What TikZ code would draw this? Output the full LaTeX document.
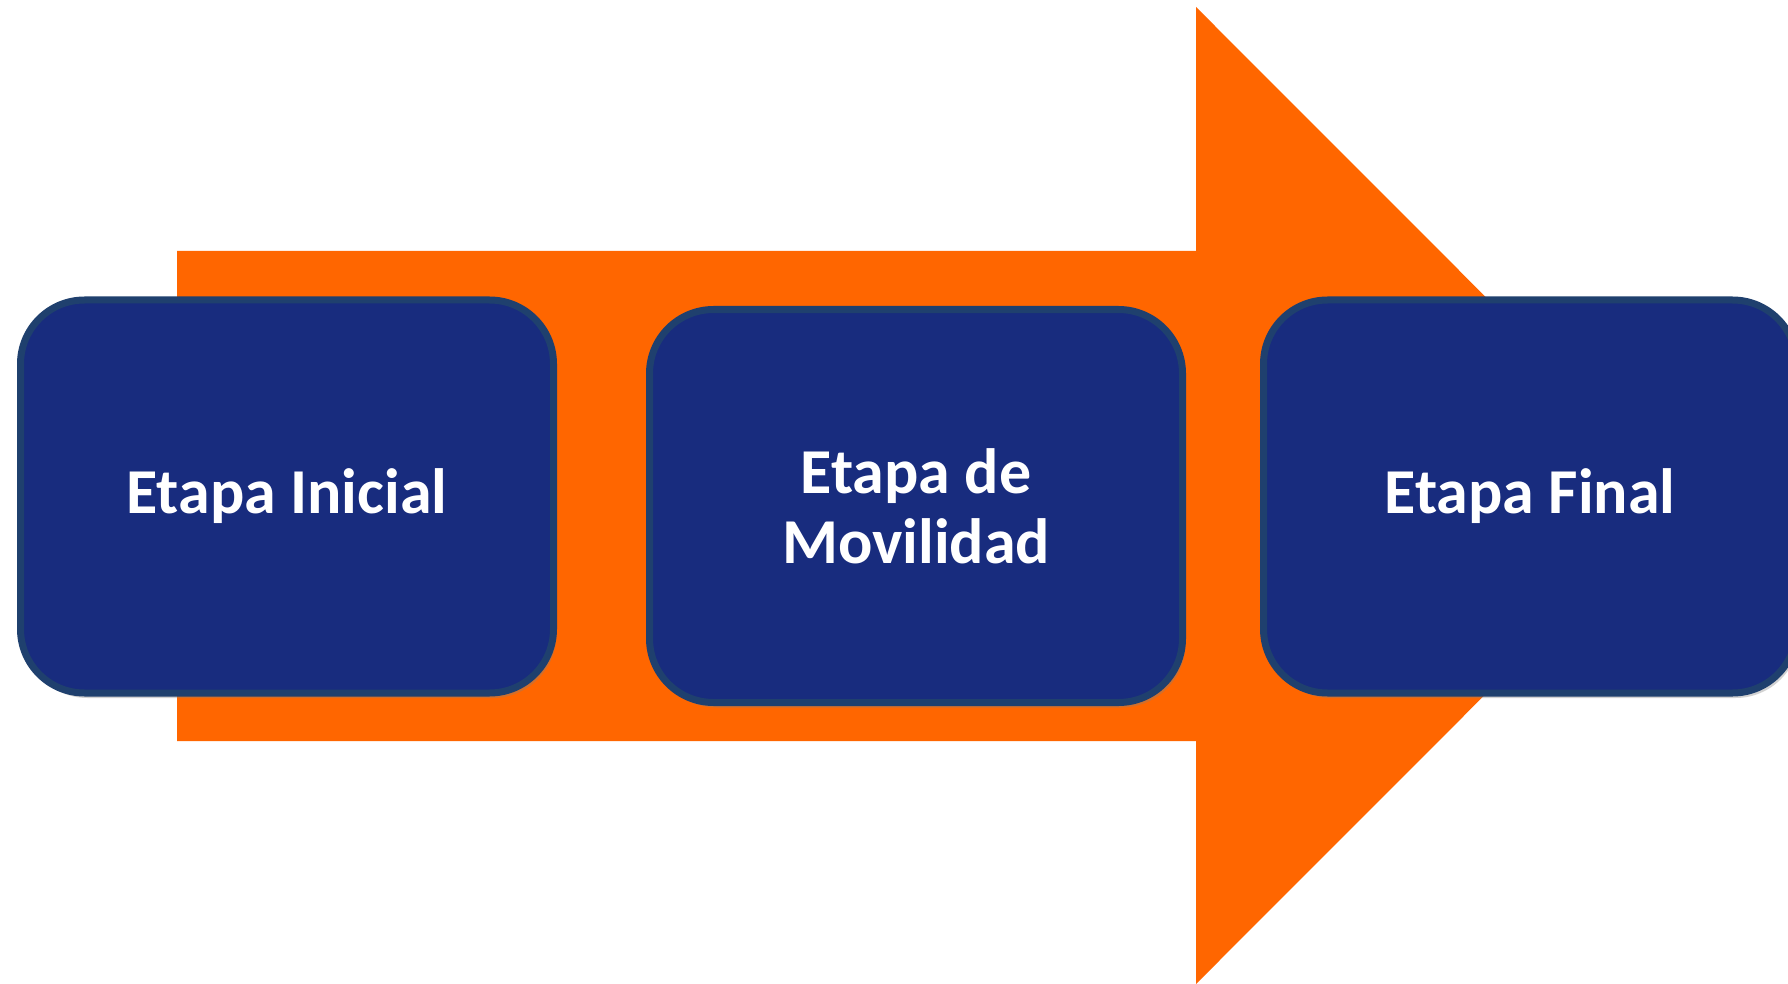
\documentclass[tikz,border=0pt]{standalone}
\usepackage{fontspec}
\setmainfont{Carlito}
\usetikzlibrary{shadows}
\definecolor{arroworange}{RGB}{255,102,0}
\definecolor{boxfill}{RGB}{24,44,126}
\definecolor{boxline}{RGB}{31,64,110}
\tikzset{
  stagebox/.style={draw=boxline, line width=7pt, fill=boxfill, rounded corners=64pt,
    minimum width=533pt, minimum height=393pt, text=white, align=center,
    font=\fontsize{64}{70}\selectfont\bfseries, inner sep=0pt,
    drop shadow={opacity=0.35, shadow xshift=3pt, shadow yshift=-5pt}},
  bigarrow/.style={fill=arroworange, draw=none}
}
\begin{document}
\begin{tikzpicture}[x=1pt,y=-1pt]
\useasboundingbox (0,0) rectangle (1788,984);
\clip (0,0) rectangle (1788,984);
\fill[white] (0,0) rectangle (1788,984);
\fill[bigarrow] (177,251) -- (1196,251) -- (1196,7) -- (1684,495.5) -- (1196,984) -- (1196,741) -- (177,741) -- cycle;
\node[stagebox] (b1) at (287,496.5) {Etapa Inicial};
\node[stagebox] (b2) at (916,506) {Etapa de\\Movilidad};
\node[stagebox] (b3) at (1530,496.5) {Etapa Final};
\end{tikzpicture}
\end{document}
